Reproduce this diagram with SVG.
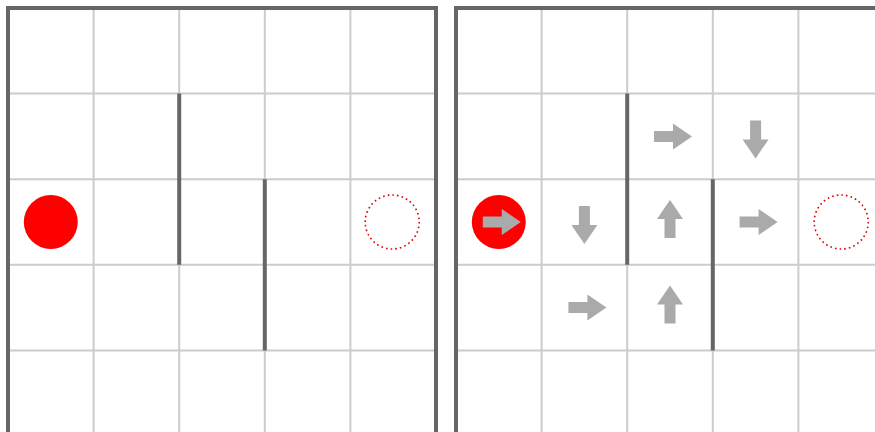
<svg xmlns="http://www.w3.org/2000/svg" width="875" height="432" viewBox="0 0 875 432">
<defs>
<style>
.grid{stroke:#cccccc;stroke-width:2;fill:none}
.wall{stroke:#666666;stroke-width:4;fill:none}
.border{stroke:#666666;stroke-width:4;fill:none}
.agent{fill:#ff0000}
.goal{fill:none;stroke:#e00000;stroke-width:1.6;stroke-dasharray:1.6 3.1}
.arrow{fill:#aaaaaa}
</style>
<path id="arr" d="M-16,-5.5 L3,-5.5 L3,-13 L22,0 L3,13 L3,5.5 L-16,5.5 Z"/>
</defs>
<rect width="875" height="432" fill="#ffffff"/>

<g id="left-grid">
<path class="grid" d="M93.6,8V440M179.2,8V440M264.8,8V440M350.4,8V440M8,93.6H436M8,179.2H436M8,264.8H436M8,350.4H436"/>
<path class="wall" d="M179.2,93.6V264.8M264.8,179.2V350.4"/>
<path class="border" d="M8,440V8H436V440"/>
</g>
<g id="left-agent"><circle class="agent" cx="50.8" cy="222" r="27"/></g>
<g id="left-goal"><circle class="goal" cx="392.2" cy="222" r="27"/></g>

<g id="right-grid">
<path class="grid" d="M541.6,8V440M627.2,8V440M712.8,8V440M798.4,8V440M456,93.6H884M456,179.2H884M456,264.8H884M456,350.4H884"/>
<path class="wall" d="M627.2,93.6V264.8M712.8,179.2V350.4"/>
<path class="border" d="M456,440V8H884V440"/>
</g>
<g id="right-agent"><circle class="agent" cx="498.8" cy="222" r="27"/></g>
<g id="right-goal"><circle class="goal" cx="841.2" cy="222" r="27"/></g>

<g id="policy-arrows" class="arrow">
<use href="#arr" transform="translate(498.8,222)"/>
<use href="#arr" transform="translate(584.4,222) rotate(90)"/>
<use href="#arr" transform="translate(584.4,307.6)"/>
<use href="#arr" transform="translate(670,136.4)"/>
<use href="#arr" transform="translate(670,222) rotate(-90)"/>
<use href="#arr" transform="translate(670,307.6) rotate(-90)"/>
<use href="#arr" transform="translate(755.6,136.4) rotate(90)"/>
<use href="#arr" transform="translate(755.6,222)"/>
</g>
<g id="connectors"></g>
</svg>
